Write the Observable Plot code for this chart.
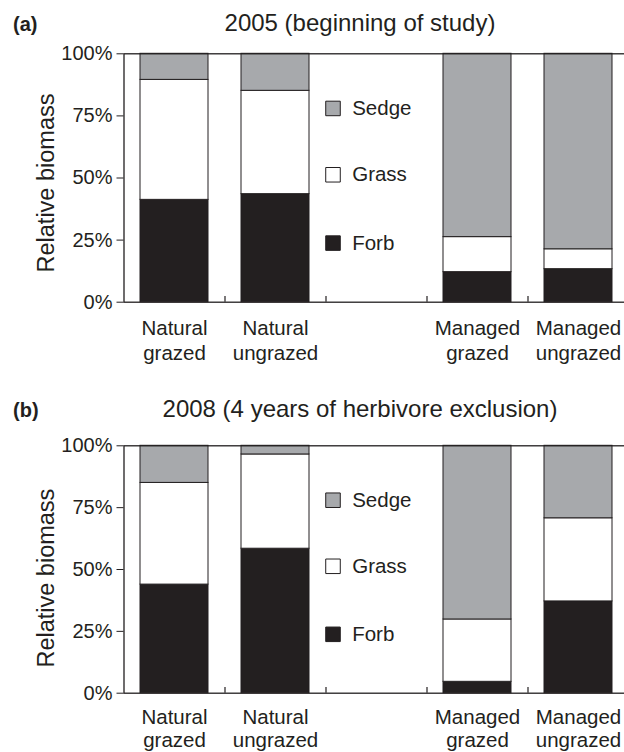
<!DOCTYPE html>
<html><head><meta charset="utf-8">
<script src="https://cdn.jsdelivr.net/npm/d3@7"></script>
<script src="https://cdn.jsdelivr.net/npm/@observablehq/plot@0.6"></script>
<style>
body{margin:0;background:#fff;overflow:hidden;}
#root{position:relative;width:624px;height:752px;overflow:hidden;font-family:"Liberation Sans",Arial,sans-serif;color:#231f20;background:#fff;}
.panel{position:absolute;left:0;width:624px;height:376px;}
.panel svg{position:absolute;left:0;top:0;}
.tag{position:absolute;left:13px;font-weight:bold;font-size:20px;line-height:20px;z-index:2;}
.title{position:absolute;left:0;width:720px;text-align:center;font-size:24px;line-height:24px;z-index:2;}
</style></head><body><div id="root"></div>
<script>
// ---- data ----
const categories = ["Natural grazed", "Natural ungrazed", "", "Managed grazed", "Managed ungrazed"];
const barCategories = ["Natural grazed", "Natural ungrazed", "Managed grazed", "Managed ungrazed"];
const groups = ["Forb", "Grass", "Sedge"];
const legendOrder = ["Sedge", "Grass", "Forb"];
const yTicks = [0, 25, 50, 75, 100];

const forb2005  = [41.2, 43.5, 12.1, 13.3];
const grass2005 = [48.3, 41.6, 14.1, 8.0];
const sedge2005 = [10.5, 14.9, 73.8, 78.7];

const forb2008  = [43.9, 58.4, 4.6, 37.1];
const grass2008 = [41.1, 38.1, 25.2, 33.6];
const sedge2008 = [15.0, 3.5, 70.2, 29.3];

const panelTags = ["(a)", "(b)"];
const panelTitles = ["2005 (beginning of study)", "2008 (4 years of herbivore exclusion)"];

// ---- layout ----
const W = 624, H = 376, ML = 123.5, MR = -4.5;
const step = (W - ML - MR) / categories.length;
const legendY = {Sedge: 78, Grass: 51.3, Forb: 23.8};
const ink = "#231f20";
const fills = [ink, "#ffffff", "#a7a9ac"];

function makePanel(forb, grass, sedge, o) {
  const rows = [];
  barCategories.forEach((c, i) => {
    rows.push({cat: c, type: "Forb", v: forb[i]});
    rows.push({cat: c, type: "Grass", v: grass[i]});
    rows.push({cat: c, type: "Sedge", v: sedge[i]});
  });
  return Plot.plot({
    width: W, height: H,
    marginLeft: ML, marginRight: MR, marginTop: o.top, marginBottom: H - o.bottom,
    style: {fontFamily: "Liberation Sans, Arial, sans-serif", color: ink, background: "white"},
    x: {domain: categories, paddingInner: 0.33, paddingOuter: 0.165},
    y: {domain: [0, 100]},
    color: {domain: groups, range: fills},
    marks: [
      Plot.barY(rows, {x: "cat", y: "v", fill: "type", stroke: ink, strokeWidth: 1}),
      Plot.frame({stroke: ink, strokeWidth: 1.3}),
      Plot.ruleX(categories.slice(1), {x: d => d, dx: -step / 2, y1: 0, y2: 2.3, stroke: ink, strokeWidth: 1.2}),
      Plot.axisY({ticks: yTicks, tickFormat: d => d + "%", tickSize: 7, tickPadding: 4.5, fontSize: 20, label: null, stroke: ink}),
      Plot.axisX({tickSize: 0, tickPadding: o.xPad, tickFormat: d => d.replace(" ", "\n"), fontSize: 20.5, lineHeight: o.xLine, label: null}),
      Plot.dot(legendOrder, {x: () => "", y: d => legendY[d], symbol: "square", r: 8.2, fill: d => d, stroke: ink, strokeWidth: 1, dx: -43.5}),
      Plot.text(legendOrder, {x: () => "", y: d => legendY[d], text: d => d, textAnchor: "start", dx: -24.3, fontSize: 20.5, fill: ink}),
      Plot.text(["Relative biomass"], {frameAnchor: "left", text: d => d, rotate: -90, textAnchor: "middle", dx: -70.5, dy: o.labelDy, lineAnchor: "bottom", fontSize: 23.5, fill: ink})
    ]
  });
}

const root = document.getElementById("root");
const specs = [
  {forb: forb2005, grass: grass2005, sedge: sedge2005, top: 53.3, bottom: 301.7, labelDy: 5, titleTop: 10.7, tagTop: 14.1, offset: 0, xPad: 15.7, xLine: 1.2},
  {forb: forb2008, grass: grass2008, sedge: sedge2008, top: 69.3, bottom: 316.7, labelDy: 8.6, titleTop: 20.7, tagTop: 24.1, offset: 376, xPad: 13.8, xLine: 1.14}
];
specs.forEach((s, i) => {
  const div = document.createElement("div");
  div.className = "panel";
  div.style.top = s.offset + "px";
  div.appendChild(makePanel(s.forb, s.grass, s.sedge, s));
  const tag = document.createElement("div");
  tag.className = "tag"; tag.style.top = s.tagTop + "px"; tag.textContent = panelTags[i];
  const title = document.createElement("div");
  title.className = "title"; title.style.top = s.titleTop + "px"; title.textContent = panelTitles[i];
  div.appendChild(tag); div.appendChild(title);
  root.appendChild(div);
});
</script></body></html>
